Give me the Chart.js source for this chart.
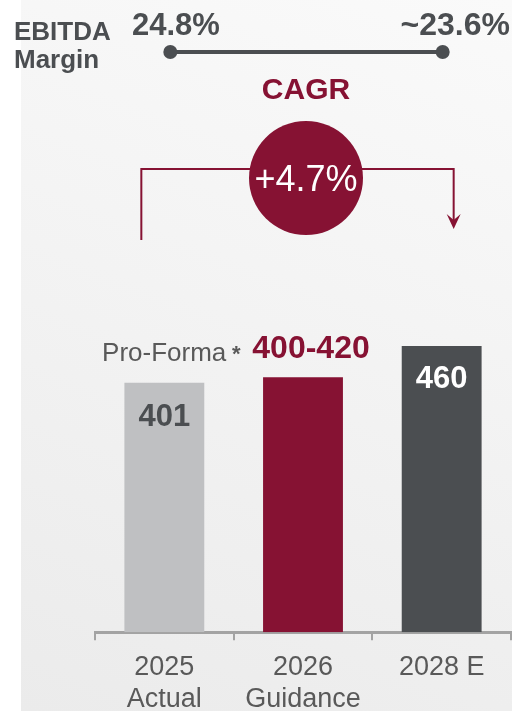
<!DOCTYPE html>
<html>
<head>
<meta charset="utf-8">
<script src="https://cdn.jsdelivr.net/npm/chart.js@4"></script>
<style>
html, body { margin: 0; padding: 0; background: #fff; }
#wrap { position: relative; width: 512px; height: 711px; overflow: hidden; }
#panel { position: absolute; left: 21px; top: 0; width: 491px; height: 711px;
  background: linear-gradient(200deg, #fafafa, #ebebeb); }
canvas { position: absolute; left: 0; top: 0; }
</style>
</head>
<body>
<div id="wrap">
<div id="panel"></div>
<canvas id="chart" width="512" height="729"></canvas>
</div>
<script>
// data
const years = [['2025', 'Actual'], ['2026', 'Guidance'], '2028 E'];
const revenue = [401, 410, 460];
const barLabels = ['401', '400-420', '460'];
const barColors = ['#bfc0c2', '#861233', '#4b4e51'];
const margins = ['24.8%', '~23.6%'];
const cagr = '+4.7%';

const FONT = '"Liberation Sans", Arial, sans-serif';
const CRIMSON = '#861233';
const DARK = '#4b4e51';

const overlay = {
  id: 'overlay',
  afterDatasetsDraw(chart) {
    const ctx = chart.ctx;
    const xs = chart.scales.x;
    const bars = chart.getDatasetMeta(0).data;
    const c0 = xs.getPixelForValue(0);
    const c1 = xs.getPixelForValue(1);
    const c2 = xs.getPixelForValue(2);

    ctx.save();

    // EBITDA margin row
    ctx.fillStyle = DARK;
    ctx.textAlign = 'left';
    ctx.textBaseline = 'alphabetic';
    ctx.font = 'bold 26px ' + FONT;
    ctx.fillText('EBITDA', 14, 40);
    ctx.fillText('Margin', 14, 68);

    ctx.font = 'bold 31px ' + FONT;
    ctx.fillText(margins[0], 132, 35);
    ctx.textAlign = 'right';
    ctx.font = 'bold 32px ' + FONT;
    ctx.fillText(margins[1], 510, 35);

    ctx.strokeStyle = DARK;
    ctx.lineWidth = 4;
    ctx.beginPath();
    ctx.moveTo(c0 + 6, 52);
    ctx.lineTo(c2 + 1, 52);
    ctx.stroke();
    [c0 + 6, c2 + 1].forEach(x => {
      ctx.beginPath();
      ctx.arc(x, 52, 7, 0, Math.PI * 2);
      ctx.fill();
    });

    // CAGR
    const cx = c1 + 3;
    ctx.fillStyle = CRIMSON;
    ctx.textAlign = 'center';
    ctx.font = 'bold 30px ' + FONT;
    ctx.fillText('CAGR', cx, 99);

    ctx.strokeStyle = CRIMSON;
    ctx.lineWidth = 2;
    ctx.beginPath();
    ctx.moveTo(c0 - 23, 240);
    ctx.lineTo(c0 - 23, 169);
    ctx.lineTo(c2 + 12, 169);
    ctx.lineTo(c2 + 12, 224);
    ctx.stroke();
    ctx.beginPath();
    ctx.moveTo(c2 + 12, 229);
    ctx.lineTo(c2 + 5, 214);
    ctx.lineTo(c2 + 12, 220);
    ctx.lineTo(c2 + 19, 214);
    ctx.closePath();
    ctx.fill();

    ctx.beginPath();
    ctx.arc(cx, 178, 57, 0, Math.PI * 2);
    ctx.fill();
    ctx.fillStyle = '#ffffff';
    ctx.font = '36px ' + FONT;
    ctx.fillText(cagr, cx, 191);

    // bar labels
    ctx.font = 'bold 31px ' + FONT;
    ctx.fillStyle = DARK;
    ctx.fillText(barLabels[0], bars[0].x, bars[0].y + 43);
    ctx.fillStyle = '#ffffff';
    ctx.fillText(barLabels[2], bars[2].x, bars[2].y + 42);
    ctx.fillStyle = CRIMSON;
    ctx.font = 'bold 32px ' + FONT;
    ctx.fillText(barLabels[1], bars[1].x + 8, bars[1].y - 19);

    ctx.textAlign = 'right';
    ctx.fillStyle = '#595959';
    ctx.font = '26px ' + FONT;
    ctx.fillText('Pro-Forma', bars[0].x + 62, bars[0].y - 22);
    ctx.textAlign = 'center';
    ctx.font = 'bold 22px ' + FONT;
    ctx.fillText('*', bars[0].x + 72, bars[0].y - 22);

    ctx.restore();
  }
};

new Chart(document.getElementById('chart'), {
  type: 'bar',
  data: {
    labels: years,
    datasets: [{
      data: revenue,
      backgroundColor: barColors,
      categoryPercentage: 1,
      barPercentage: 0.576
    }]
  },
  options: {
    responsive: false,
    animation: false,
    layout: { padding: { top: 259, left: 95, right: 1, bottom: 2 } },
    plugins: { legend: { display: false }, tooltip: { enabled: false } },
    scales: {
      x: {
        grid: { display: true, drawOnChartArea: false, tickLength: 8, color: '#a3a3a3', lineWidth: 2 },
        border: { display: true, color: '#a3a3a3', width: 3 },
        ticks: { color: '#595959', padding: 11, maxRotation: 0, autoSkip: false,
          font: { size: 27, family: FONT, lineHeight: 1.2 } }
      },
      y: { display: false, min: 0, max: 600 }
    }
  },
  plugins: [overlay]
});
</script>
</body>
</html>
